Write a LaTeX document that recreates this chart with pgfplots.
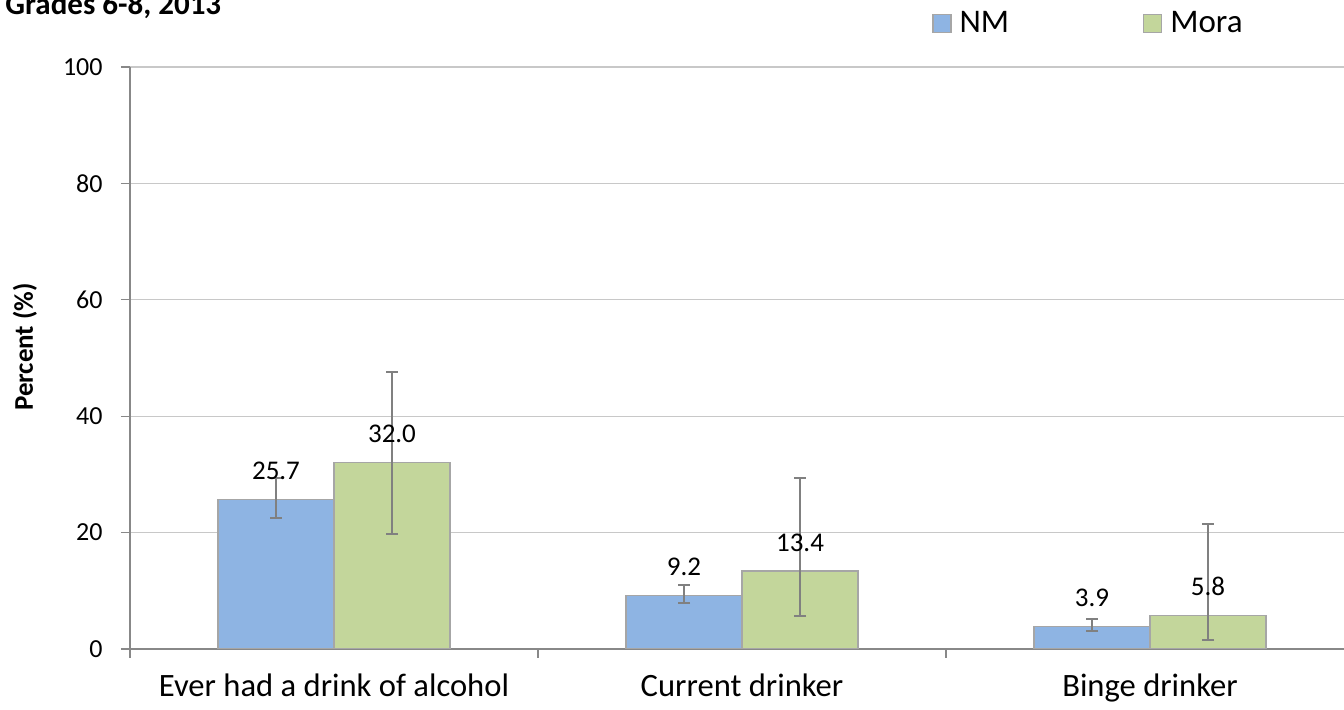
\documentclass[border=0pt]{standalone}
\usepackage{fontspec}
\setmainfont{Carlito}
\usepackage{pgfplots}
\pgfplotsset{compat=1.18}
\definecolor{NMblue}{HTML}{8EB4E3}
\definecolor{MoraGreen}{HTML}{C3D69B}
\definecolor{BarEdge}{HTML}{A6A6A6}
\definecolor{ErrGray}{HTML}{808080}
\definecolor{GridGray}{HTML}{C8C8C8}
\definecolor{AxisGray}{HTML}{888888}

\pgfplotsset{errstyle/.style={
  error bars/y dir=both, error bars/y explicit,
  error bars/error bar style={draw=ErrGray, line width=1pt},
  error bars/error mark options={draw=ErrGray, line width=1pt, mark size=3pt, rotate=90}}}

\begin{document}
\begin{tikzpicture}
\begin{axis}[
  scale only axis,
  width=612pt, height=291pt,
  xmin=-0.5, xmax=2.5,
  ymin=0, ymax=100,
  ytick={0,20,40,60,80,100},
  xtick={-0.5,0.5,1.5,2.5},
  xticklabels={},
  extra x ticks={0,1,2},
  extra x tick labels={Ever had a drink of alcohol,Current drinker,Binge drinker},
  extra x tick style={major tick length=0pt, grid=none},
  axis lines*=left,
  axis line style={draw=AxisGray, line width=0.6pt},
  tick style={draw=AxisGray, line width=0.6pt},
  major tick length=4.5pt,
  tick align=outside,
  ymajorgrids,
  grid style={draw=GridGray, line width=0.6pt},
  /pgf/number format/assume math mode=true,
  yticklabel style={font=\fontsize{13}{15}\selectfont, anchor=east, inner sep=0pt, xshift=-9pt},
  xticklabel style={font=\fontsize{16.3}{19}\selectfont, anchor=base, inner sep=0pt, yshift=-24pt},
  ylabel={\textbf{Percent (\%)}},
  every axis y label/.style={at={([xshift=-52.5pt]axis description cs:0,0.519)}, rotate=90, anchor=center, font=\fontsize{13.5}{16}\selectfont},
  ybar, bar width=58pt,
  nodes near coords={\pgfmathprintnumber[fixed,fixed zerofill,precision=1]{\pgfplotspointmeta}},
  every node near coord/.append style={font=\fontsize{13.5}{15}\selectfont, anchor=base, inner sep=0pt, yshift=10pt, text=black},
  legend columns=2,
  legend style={draw=none, fill=none, inner sep=0pt,
    font=\fontsize{16.5}{19}\selectfont,
    at={([xshift=401pt,yshift=21.75pt]axis description cs:0,1)}, anchor=west,
    /tikz/every even column/.append style={column sep=65pt}},
  legend image code/.code={\draw[#1,draw=BarEdge,line width=0.6pt] (0pt,-4.5pt) rectangle (9pt,4.5pt);},
  legend cell align=left,
]
\addplot+[fill=NMblue, draw=BarEdge, line width=0.7pt, bar shift=-29pt, errstyle] coordinates {
  (0,25.7) += (0,3.7) -= (0,3.2)
  (1,9.2)  += (0,1.8) -= (0,1.35)
  (2,3.9)  += (0,1.3) -= (0,0.8)
};
\addlegendentry{\hspace{2pt}NM}
\addplot+[fill=MoraGreen, draw=BarEdge, line width=0.7pt, bar shift=29pt, errstyle] coordinates {
  (0,32.0) += (0,15.6) -= (0,12.2)
  (1,13.4) += (0,15.9) -= (0,7.8)
  (2,5.8)  += (0,15.6) -= (0,4.3)
};
\addlegendentry{\hspace{2pt}Mora}
\end{axis}
\node[anchor=base west, inner sep=0pt, font=\fontsize{15.5}{18}\selectfont\bfseries] at (-62.5pt,317pt) {Grades 6-8, 2013};
\pgfresetboundingbox
\path[use as bounding box] (-65pt,-30.5pt) rectangle (607pt,324.5pt);
\end{tikzpicture}
\end{document}
